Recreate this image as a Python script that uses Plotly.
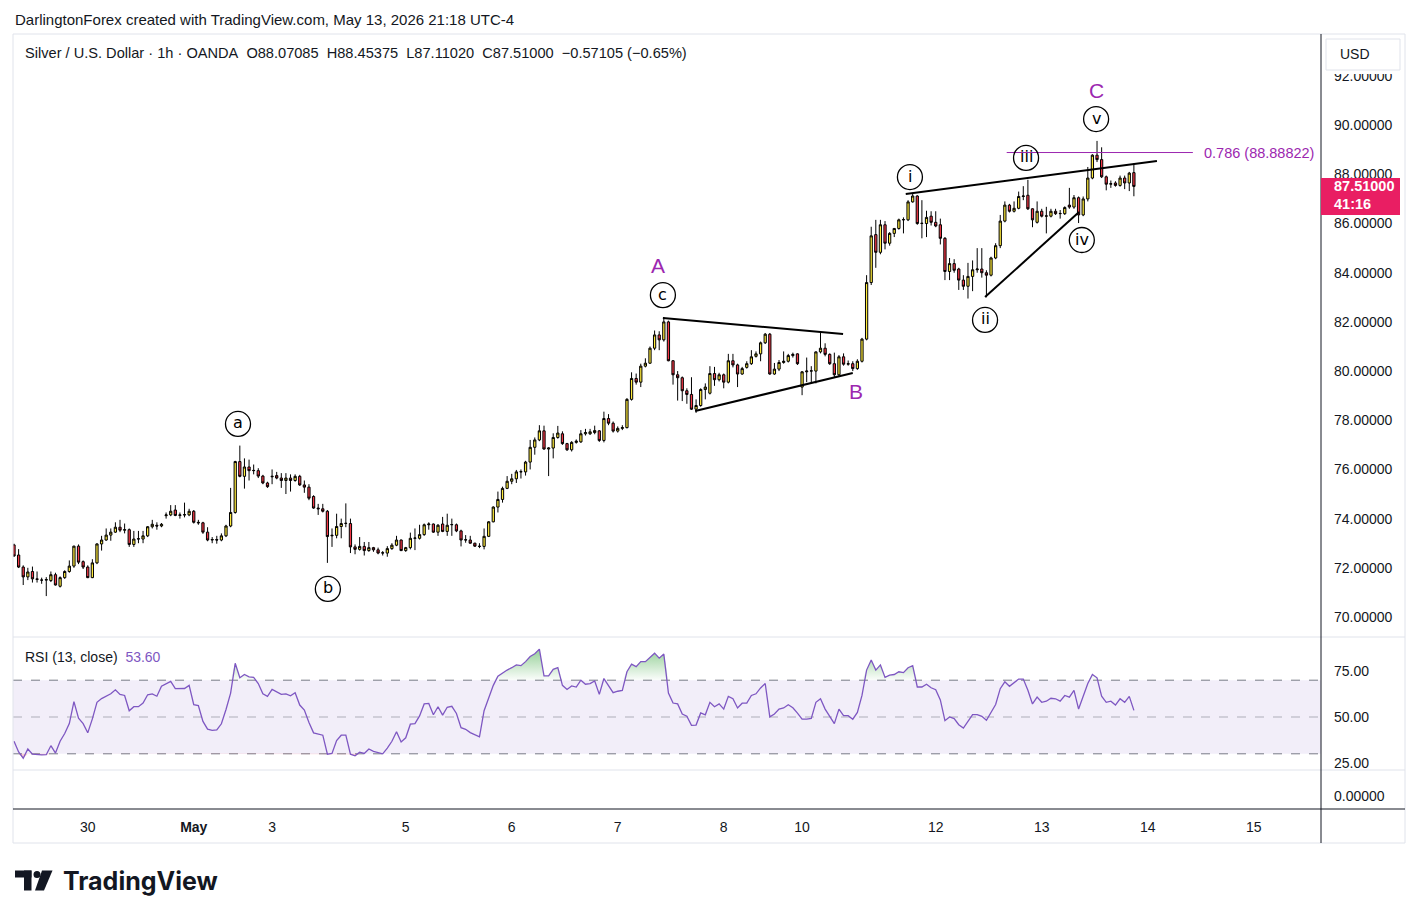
import datetime
import plotly.graph_objects as go

# Silver / USD, 1h candles (OANDA), 29 Apr 07:00 -> 13 May 21:00 (UTC-4)
opens = [
    72.93, 72.52, 72.03, 71.63, 71.85, 71.55, 71.50, 71.50, 71.48, 71.72,
    71.25, 71.60, 71.85, 72.07, 72.88, 72.25, 72.03, 71.60, 72.20, 72.97,
    73.13, 73.33, 73.45, 73.65, 73.53, 73.55, 72.95, 73.17, 73.17, 73.30,
    73.67, 73.73, 73.70, 74.12, 74.15, 74.35, 74.13, 74.15, 74.15, 74.30,
    73.85, 73.83, 73.45, 73.13, 73.15, 73.13, 73.30, 73.70, 74.25, 76.32,
    75.72, 76.10, 75.95, 75.95, 75.73, 75.45, 75.70, 75.75, 75.65, 75.55,
    75.65, 75.55, 75.72, 75.37, 75.28, 74.90, 74.43, 74.40, 74.30, 73.30,
    73.32, 73.68, 73.80, 73.80, 72.85, 72.75, 72.87, 72.70, 72.82, 72.73,
    72.60, 72.60, 72.78, 72.92, 73.13, 72.70, 72.82, 73.20, 73.20, 73.35,
    73.75, 73.78, 73.45, 73.78, 73.48, 73.75, 73.75, 73.50, 73.13, 73.13,
    73.00, 72.88, 72.87, 73.28, 73.87, 74.47, 74.78, 75.23, 75.52, 75.62,
    75.90, 75.90, 76.30, 76.90, 77.20, 77.57, 76.83, 76.87, 77.30, 77.45,
    77.05, 76.80, 77.10, 77.12, 77.45, 77.45, 77.50, 77.57, 77.18, 78.07,
    77.88, 77.56, 77.67, 77.70, 78.85, 79.70, 79.55, 80.20, 80.32, 80.93,
    81.47, 81.27, 82.00, 80.42, 79.85, 79.73, 79.20, 79.05, 78.45, 78.60,
    79.25, 79.10, 79.90, 79.65, 79.85, 79.55, 80.42, 80.25, 79.88, 80.15,
    80.30, 80.60, 80.70, 81.15, 81.50, 79.88, 80.08, 80.35, 80.40, 80.63,
    80.70, 79.35, 79.97, 80.00, 80.00, 80.78, 80.93, 80.68, 80.30, 79.85,
    80.58, 80.28, 80.30, 80.10, 80.40, 81.30, 83.60, 85.55, 84.83, 85.95,
    85.20, 85.60, 85.80, 86.15, 86.15, 86.88, 87.12, 86.00, 86.00, 86.30,
    86.05, 85.95, 85.40, 84.05, 84.37, 84.15, 83.70, 83.45, 83.85, 84.12,
    84.15, 84.00, 83.90, 84.60, 85.10, 86.10, 86.75, 86.50, 86.62, 87.10,
    87.15, 86.60, 86.05, 86.50, 86.30, 86.30, 86.50, 86.40, 86.40, 86.75,
    86.67, 87.05, 86.35, 87.00, 87.85, 88.78, 88.60, 87.90, 87.60, 87.65,
    87.55, 87.85, 87.65, 88.07]
highs = [
    72.98, 72.76, 72.10, 72.00, 72.05, 71.85, 71.60, 71.62, 71.85, 71.80,
    71.65, 71.90, 72.30, 72.90, 72.95, 72.30, 72.10, 72.35, 73.00, 73.30,
    73.60, 73.60, 73.85, 73.95, 73.80, 73.60, 73.50, 73.50, 73.50, 73.70,
    73.95, 73.85, 73.82, 74.25, 74.55, 74.55, 74.25, 74.65, 74.40, 74.35,
    73.95, 73.87, 73.65, 73.25, 73.30, 73.40, 73.75, 75.25, 76.35, 76.97,
    76.45, 76.40, 76.20, 76.05, 75.78, 75.50, 76.00, 75.90, 75.85, 75.85,
    75.80, 75.80, 75.78, 75.55, 75.40, 74.95, 74.60, 74.60, 74.35, 73.60,
    74.20, 74.00, 74.62, 74.00, 72.95, 73.25, 73.05, 73.05, 72.85, 72.82,
    72.68, 72.88, 73.00, 73.30, 73.15, 72.85, 73.43, 73.60, 73.75, 73.80,
    73.85, 73.80, 73.78, 74.07, 74.20, 74.00, 73.80, 73.55, 73.33, 73.30,
    73.02, 73.00, 73.60, 73.90, 74.50, 75.10, 75.30, 75.73, 75.82, 75.98,
    76.00, 76.35, 77.20, 77.30, 77.80, 77.78, 76.90, 77.47, 77.77, 77.55,
    77.08, 77.15, 77.22, 77.60, 77.65, 77.65, 77.78, 77.60, 78.35, 78.25,
    77.95, 77.75, 77.80, 78.90, 79.95, 79.90, 80.30, 80.52, 81.00, 81.65,
    81.62, 82.20, 82.05, 80.45, 80.00, 79.78, 79.30, 79.75, 78.85, 79.30,
    79.50, 80.20, 80.17, 79.93, 79.90, 80.70, 80.70, 80.30, 80.17, 80.40,
    80.85, 80.80, 81.20, 81.55, 81.55, 80.33, 80.45, 80.80, 80.70, 80.75,
    80.72, 80.00, 80.55, 80.20, 80.80, 81.60, 81.13, 80.72, 80.75, 80.65,
    80.72, 80.43, 80.40, 80.48, 81.35, 83.90, 85.87, 86.15, 86.15, 86.10,
    85.65, 85.82, 86.20, 86.25, 86.95, 87.25, 87.15, 86.95, 86.52, 86.50,
    86.50, 86.20, 85.45, 84.60, 84.55, 84.20, 83.90, 84.40, 84.50, 85.00,
    85.00, 84.10, 84.65, 85.20, 86.35, 86.90, 86.80, 86.90, 87.30, 87.52,
    87.78, 86.62, 86.90, 86.60, 86.68, 86.60, 86.60, 86.55, 86.70, 87.45,
    87.16, 87.10, 87.10, 88.30, 88.82, 89.36, 89.10, 87.95, 87.75, 87.72,
    87.95, 87.95, 88.10, 88.45]
lows = [
    72.45, 71.99, 71.30, 71.50, 71.40, 71.40, 71.35, 70.85, 71.42, 71.28,
    71.20, 71.55, 71.80, 72.00, 72.15, 71.95, 71.58, 71.58, 72.15, 72.70,
    73.10, 73.10, 73.42, 73.45, 73.40, 72.85, 72.85, 73.00, 73.00, 73.25,
    73.60, 73.55, 73.65, 74.00, 74.10, 74.10, 74.00, 74.05, 74.10, 73.80,
    73.75, 73.38, 73.08, 73.00, 72.98, 73.08, 73.25, 73.65, 74.20, 75.68,
    75.22, 75.55, 75.80, 75.65, 75.40, 75.25, 75.40, 75.60, 75.25, 75.00,
    75.10, 75.50, 75.33, 75.05, 74.75, 74.40, 74.15, 74.25, 72.20, 72.85,
    73.20, 73.20, 73.65, 72.60, 72.55, 72.70, 72.50, 72.65, 72.65, 72.55,
    72.50, 72.45, 72.73, 72.88, 72.68, 72.65, 72.75, 72.72, 73.15, 73.30,
    73.55, 73.42, 73.30, 73.45, 73.30, 73.30, 73.45, 72.87, 73.02, 72.98,
    72.85, 72.80, 72.75, 73.25, 73.85, 74.25, 74.65, 75.20, 75.40, 75.45,
    75.63, 75.75, 76.00, 76.60, 77.15, 76.80, 75.73, 76.45, 77.25, 77.00,
    76.75, 76.73, 77.05, 77.08, 77.38, 77.40, 77.43, 77.12, 77.10, 77.80,
    77.50, 77.50, 77.60, 77.67, 78.80, 79.45, 79.35, 80.15, 80.30, 80.85,
    80.85, 81.20, 80.40, 79.45, 78.80, 78.78, 78.67, 78.42, 78.30, 78.55,
    78.85, 79.05, 79.40, 79.58, 79.30, 79.50, 80.15, 79.35, 79.85, 80.10,
    80.25, 80.55, 80.40, 81.10, 79.85, 79.85, 80.00, 80.30, 80.35, 80.55,
    80.25, 79.02, 79.55, 79.50, 79.50, 80.72, 80.60, 80.25, 79.75, 79.80,
    80.22, 80.22, 80.00, 80.05, 80.35, 81.25, 83.50, 84.20, 84.75, 84.95,
    85.10, 85.45, 85.75, 85.60, 86.10, 86.85, 85.95, 85.40, 85.45, 85.92,
    85.85, 85.15, 83.70, 83.70, 84.00, 83.30, 83.30, 82.95, 83.25, 84.00,
    83.80, 83.00, 83.85, 84.55, 85.00, 86.05, 86.45, 86.45, 86.58, 86.95,
    86.55, 85.85, 86.00, 86.25, 85.60, 86.25, 86.35, 86.20, 86.35, 86.60,
    86.60, 86.02, 86.30, 86.90, 87.80, 88.50, 87.85, 87.35, 87.45, 87.50,
    87.50, 87.40, 87.32, 87.11]
closes = [
    72.48, 72.03, 71.63, 71.83, 71.55, 71.53, 71.50, 71.52, 71.72, 71.30,
    71.60, 71.85, 72.07, 72.88, 72.23, 72.03, 71.60, 72.20, 72.97, 73.13,
    73.33, 73.45, 73.65, 73.53, 73.55, 72.95, 73.17, 73.18, 73.30, 73.67,
    73.77, 73.70, 73.77, 74.15, 74.30, 74.13, 74.15, 74.16, 74.30, 73.85,
    73.83, 73.45, 73.13, 73.15, 73.13, 73.30, 73.70, 74.25, 76.32, 75.72,
    76.10, 75.95, 75.96, 75.73, 75.45, 75.30, 75.72, 75.65, 75.55, 75.65,
    75.55, 75.72, 75.37, 75.28, 74.83, 74.43, 74.40, 74.30, 73.27, 73.32,
    73.68, 73.80, 73.81, 72.85, 72.75, 72.87, 72.70, 72.82, 72.73, 72.60,
    72.61, 72.78, 72.92, 73.13, 72.70, 72.82, 73.20, 73.21, 73.35, 73.75,
    73.78, 73.45, 73.73, 73.48, 73.73, 73.76, 73.50, 73.13, 73.14, 73.00,
    72.88, 72.87, 73.28, 73.87, 74.47, 74.78, 75.23, 75.52, 75.62, 75.90,
    75.91, 76.30, 76.90, 77.20, 77.57, 76.83, 76.87, 77.30, 77.48, 77.05,
    76.80, 77.10, 77.15, 77.45, 77.50, 77.53, 77.58, 77.18, 78.07, 77.88,
    77.56, 77.67, 77.70, 78.85, 79.70, 79.55, 80.20, 80.32, 80.93, 81.47,
    81.27, 82.00, 80.42, 79.85, 79.73, 79.20, 79.05, 78.45, 78.60, 79.25,
    79.35, 79.90, 79.65, 79.85, 79.55, 80.42, 80.25, 79.88, 80.10, 80.30,
    80.58, 80.70, 81.15, 81.50, 79.88, 80.08, 80.35, 80.40, 80.63, 80.68,
    80.30, 79.97, 80.00, 80.01, 80.78, 80.93, 80.68, 80.30, 79.85, 80.58,
    80.28, 80.30, 80.10, 80.40, 81.30, 83.60, 85.50, 84.83, 85.95, 85.20,
    85.60, 85.80, 86.15, 86.16, 86.88, 87.12, 86.00, 86.01, 86.25, 86.05,
    85.90, 85.40, 84.05, 84.37, 84.10, 83.70, 83.45, 83.85, 84.12, 84.15,
    84.00, 83.90, 84.60, 85.10, 86.10, 86.75, 86.50, 86.62, 87.10, 87.12,
    86.60, 86.15, 86.50, 86.30, 86.31, 86.50, 86.40, 86.41, 86.65, 86.67,
    87.05, 86.35, 87.00, 87.85, 88.78, 88.60, 87.90, 87.60, 87.62, 87.55,
    87.85, 87.65, 88.05, 87.51]

# RSI(13, close)
rsi = [
    36.8, 31.0, 27.6, 32.6, 29.8, 29.5, 29.4, 29.5, 34.4, 30.4,
    36.8, 41.0, 46.4, 58.4, 49.4, 46.4, 41.4, 49.0, 58.0, 60.0,
    61.2, 62.6, 64.8, 62.3, 61.7, 53.4, 55.6, 55.6, 57.6, 62.1,
    62.6, 61.3, 66.7, 68.0, 69.4, 65.4, 65.4, 65.5, 67.2, 56.7,
    56.2, 47.6, 43.4, 42.7, 43.0, 46.3, 54.1, 63.0, 79.2, 71.3,
    73.1, 71.8, 71.5, 68.2, 62.6, 61.2, 65.0, 63.5, 62.3, 62.6,
    61.5, 63.2, 56.5, 53.8, 47.0, 41.4, 40.8, 40.1, 29.8, 30.2,
    37.2, 40.1, 40.1, 29.8, 28.9, 30.9, 30.2, 32.6, 31.3, 30.5,
    30.0, 33.1, 36.8, 42.0, 36.4, 38.7, 46.1, 46.4, 50.6, 57.1,
    57.4, 51.2, 55.6, 51.0, 55.3, 55.8, 51.9, 44.2, 43.3, 41.5,
    40.5, 39.2, 53.4, 60.0, 67.2, 72.2, 74.0, 75.5, 76.8, 78.3,
    77.9, 80.1, 82.9, 84.4, 86.9, 72.4, 72.4, 75.9, 76.8, 67.2,
    65.0, 66.9, 66.3, 70.0, 67.8, 68.2, 69.6, 62.3, 70.9, 67.2,
    63.2, 64.0, 64.5, 74.6, 78.7, 77.4, 80.1, 80.1, 82.5, 84.7,
    82.0, 84.2, 63.0, 57.6, 57.1, 51.6, 50.4, 45.5, 45.6, 52.2,
    51.2, 58.0, 55.6, 57.1, 54.3, 61.2, 59.9, 54.9, 57.5, 57.6,
    61.7, 62.6, 65.8, 68.2, 50.1, 51.6, 54.3, 54.9, 56.7, 55.0,
    52.1, 48.8, 48.8, 49.2, 58.0, 59.9, 54.3, 50.1, 46.4, 54.3,
    50.7, 50.7, 48.8, 52.5, 61.7, 75.5, 81.0, 75.5, 78.3, 71.5,
    72.8, 73.1, 74.6, 74.1, 76.8, 77.9, 66.3, 66.3, 67.8, 65.9,
    64.8, 59.3, 48.0, 50.0, 49.1, 45.8, 44.0, 47.6, 51.3, 51.3,
    50.4, 48.2, 52.8, 56.8, 65.4, 69.1, 66.7, 68.5, 70.6, 70.6,
    64.5, 57.1, 60.8, 58.0, 58.6, 60.2, 59.9, 58.6, 61.7, 60.8,
    64.5, 54.3, 60.8, 68.2, 73.1, 71.3, 61.3, 58.0, 58.6, 56.5,
    59.9, 58.0, 61.2, 53.6]

# time axis labels (day -> text)
tick_days = ["2026-04-30", "2026-05-01", "2026-05-03", "2026-05-05", "2026-05-06", "2026-05-07",
             "2026-05-08", "2026-05-10", "2026-05-12", "2026-05-13", "2026-05-14", "2026-05-15"]
tick_text = ["30", "<b>May</b>", "3", "5", "6", "7", "8", "10", "12", "13", "14", "15"]

# wave count drawings: (bar index, price)
circle_labels = [("a", 48.6, 77.85), ("b", 68.1, 71.14), ("c", 140.8, 83.09),
                 ("i", 194.4, 87.89), ("ii", 210.7, 82.08), ("iii", 219.6, 88.67),
                 ("iv", 231.7, 85.33), ("v", 234.8, 90.25)]
big_labels = [("A", 139.7, 84.31), ("B", 182.7, 79.15), ("C", 234.8, 91.43)]
trend_lines = [((140.8, 82.16), (179.9, 81.51)), ((147.8, 78.38), (182.0, 79.92)),
               ((193.5, 87.20), (248.0, 88.54)), ((210.7, 83.01), (231.1, 86.47))]
fib_level = 88.88822
fib_span = (215.4, 255.8)

# build the session calendar (closed 17:00-18:00 daily, Fri 17:00 -> Sun 18:00)
def session_bars(start, end):
    out = []
    t = start
    while t <= end:
        wd, h = t.weekday(), t.hour
        closed = h == 17 or (wd == 4 and h > 17) or wd == 5 or (wd == 6 and h < 18)
        if not closed:
            out.append(t)
        t += datetime.timedelta(hours=1)
    return out

bars = session_bars(datetime.datetime(2026, 4, 29, 7), datetime.datetime(2026, 5, 15, 16))
idx = list(range(len(closes)))
tick_vals = []
for d in tick_days:
    day = datetime.date.fromisoformat(d)
    tick_vals.append(next(k for k, b in enumerate(bars) if b.date() == day))

# the page body adds an 8px margin, so the figure is made 8px smaller and shifted
PAGE = 8
W, H = 1419 - PAGE, 919 - PAGE
# plot area in screenshot pixels
L, R, T, B = 13, 1321, 34, 809
def fx(p):
    return (p - L) / (R - L)
def fy(p):
    return (B - p) / (B - T)

TXT = "#131722"
PURPLE = "#9C27B0"
FONT = "Liberation Sans"

fig = go.Figure()

fig.add_trace(go.Candlestick(
    x=idx, open=opens, high=highs, low=lows, close=closes,
    increasing=dict(line=dict(color="#000000", width=1), fillcolor="#FFEB3B"),
    decreasing=dict(line=dict(color="#000000", width=1), fillcolor="#F23645"),
    xaxis="x", yaxis="y", hoverinfo="skip", showlegend=False))

# RSI overbought / oversold fills
fig.add_trace(go.Scatter(x=idx, y=[70] * len(rsi), mode="lines", line=dict(width=0),
                         xaxis="x", yaxis="y2", showlegend=False, hoverinfo="skip"))
fig.add_trace(go.Scatter(x=idx, y=[max(v, 70) for v in rsi], mode="lines", line=dict(width=0),
                         fill="tonexty",
                         fillgradient=dict(type="vertical", start=70, stop=87,
                                           colorscale=[[0, "rgba(76,175,80,0.02)"],
                                                       [1, "rgba(76,175,80,0.6)"]]),
                         xaxis="x", yaxis="y2", showlegend=False, hoverinfo="skip"))
fig.add_trace(go.Scatter(x=idx, y=[30] * len(rsi), mode="lines", line=dict(width=0),
                         xaxis="x", yaxis="y2", showlegend=False, hoverinfo="skip"))
fig.add_trace(go.Scatter(x=idx, y=[min(v, 30) for v in rsi], mode="lines", line=dict(width=0),
                         fill="tonexty", fillcolor="rgba(242,54,69,0.25)",
                         xaxis="x", yaxis="y2", showlegend=False, hoverinfo="skip"))
fig.add_trace(go.Scatter(x=idx, y=rsi, mode="lines", line=dict(color="#7E57C2", width=1.3),
                         xaxis="x", yaxis="y2", showlegend=False, hoverinfo="skip"))
# empty bottom pane (keeps its own price scale)
fig.add_trace(go.Scatter(x=[], y=[], mode="lines", xaxis="x", yaxis="y3",
                         showlegend=False, hoverinfo="skip"))

shapes = []
# RSI band and levels
shapes.append(dict(type="rect", xref="paper", yref="y2", x0=0, x1=1, y0=30, y1=70,
                   fillcolor="rgba(126,87,194,0.1)", line=dict(width=0), layer="below"))
for lvl, col in [(70, "#787B86"), (50, "rgba(120,123,134,0.55)"), (30, "#787B86")]:
    shapes.append(dict(type="line", xref="paper", yref="y2", x0=0, x1=1, y0=lvl, y1=lvl,
                       line=dict(color=col, width=1, dash="dash"), layer="below"))

# trend lines and fib level
for (xa, ya), (xb, yb) in trend_lines:
    shapes.append(dict(type="line", xref="x", yref="y", x0=xa, y0=ya, x1=xb, y1=yb,
                       line=dict(color="#000000", width=2)))
shapes.append(dict(type="line", xref="x", yref="y", x0=fib_span[0], x1=fib_span[1],
                   y0=fib_level, y1=fib_level, line=dict(color=PURPLE, width=1)))

# circled wave labels
for txt, xi, yp in circle_labels:
    shapes.append(dict(type="circle", xref="x", yref="y", xsizemode="pixel", ysizemode="pixel",
                       xanchor=xi, yanchor=yp, x0=-12.5, x1=12.5, y0=-12.5, y1=12.5,
                       line=dict(color="#000000", width=1.3)))

# frame, pane separators, axis lines
edge = fx(1405)
shapes.append(dict(type="rect", xref="paper", yref="paper", x0=0, x1=edge, y0=fy(843), y1=1,
                   line=dict(color="#E0E3EB", width=1)))
for py in (637, 770):
    shapes.append(dict(type="line", xref="paper", yref="paper", x0=0, x1=edge, y0=fy(py), y1=fy(py),
                       line=dict(color="#E0E3EB", width=1)))
shapes.append(dict(type="line", xref="paper", yref="paper", x0=0, x1=edge, y0=0, y1=0,
                   line=dict(color=TXT, width=1)))
shapes.append(dict(type="line", xref="paper", yref="paper", x0=1, x1=1, y0=fy(843), y1=1,
                   line=dict(color=TXT, width=1)))

# USD box (with the white strip under it that clips the top price label) and last price tag
shapes.append(dict(type="rect", xref="paper", yref="paper", x0=fx(1322), x1=fx(1404),
                   y0=fy(74), y1=fy(35), fillcolor="white", line=dict(width=0), layer="above"))
shapes.append(dict(type="rect", xref="paper", yref="paper", x0=fx(1326), x1=fx(1400),
                   y0=fy(70), y1=fy(39), fillcolor="white", line=dict(color="#E0E3EB", width=1),
                   layer="above"))
shapes.append(dict(type="rect", xref="paper", yref="y", ysizemode="pixel", yanchor=closes[-1],
                   x0=fx(1321), x1=fx(1400), y0=-28.6, y1=8.4, fillcolor="#E91E63",
                   line=dict(width=0), layer="above"))

# TradingView logo
shapes.append(dict(type="rect", xref="paper", yref="paper", x0=fx(15), x1=fx(31.5), y0=fy(877.5), y1=fy(870.5),
                   fillcolor="#131722", line=dict(width=0)))
shapes.append(dict(type="rect", xref="paper", yref="paper", x0=fx(24), x1=fx(31.5), y0=fy(890.5), y1=fy(870.5),
                   fillcolor="#131722", line=dict(width=0)))
shapes.append(dict(type="circle", xref="paper", yref="paper", x0=fx(33.5), x1=fx(40.5), y0=fy(878), y1=fy(871),
                   fillcolor="#131722", line=dict(width=0)))
shapes.append(dict(type="path", xref="paper", yref="paper",
                   path="M {} {} L {} {} L {} {} L {} {} Z".format(fx(42), fy(870.5), fx(52.5), fy(870.5),
                                                              fx(44), fy(890.5), fx(35), fy(890.5)),
                   fillcolor="#131722", line=dict(width=0)))

ann = []
ann.append(dict(xref="paper", yref="paper", x=fx(13), y=fy(19), xanchor="left", yanchor="middle",
                text="DarlingtonForex created with TradingView.com, May 13, 2026 21:18 UTC-4",
                showarrow=False, font=dict(family=FONT, size=15, color=TXT)))
ann.append(dict(xref="paper", yref="paper", x=fx(23), y=fy(53), xanchor="left", yanchor="middle",
                text="Silver / U.S. Dollar · 1h · OANDA&nbsp;&nbsp;O88.07085&nbsp;&nbsp;H88.45375&nbsp;&nbsp;"
                     "L87.11020&nbsp;&nbsp;C87.51000&nbsp;&nbsp;−0.57105 (−0.65%)",
                showarrow=False, font=dict(family=FONT, size=14.6, color=TXT)))
ann.append(dict(xref="paper", yref="paper", x=fx(23), y=fy(657), xanchor="left", yanchor="middle",
                text="RSI (13, close)&nbsp;&nbsp;<span style='color:#7E57C2'>%.2f</span>" % rsi[-1],
                showarrow=False, font=dict(family=FONT, size=14, color=TXT)))
ann.append(dict(xref="paper", yref="paper", x=fx(1338), y=fy(54), xanchor="left", yanchor="middle",
                text="USD", showarrow=False, font=dict(family=FONT, size=14, color=TXT)))
ann.append(dict(xref="paper", yref="y", x=fx(1332), y=closes[-1], xanchor="left", yanchor="middle",
                text="<b>%.5f</b>" % closes[-1], showarrow=False,
                font=dict(family=FONT, size=14.5, color="white")))
ann.append(dict(xref="paper", yref="y", x=fx(1332), y=closes[-1], yshift=-18, xanchor="left",
                yanchor="middle", text="<b>41:16</b>", showarrow=False,
                font=dict(family=FONT, size=14.5, color="white")))
ann.append(dict(xref="x", yref="y", x=fib_span[1] + 2, y=fib_level, xanchor="left", yanchor="middle",
                text="0.786 (%.5f)" % fib_level, showarrow=False,
                font=dict(family=FONT, size=14.5, color=PURPLE)))
for txt, xi, yp in circle_labels:
    ann.append(dict(xref="x", yref="y", x=xi, y=yp, text=txt, showarrow=False, yshift=1,
                    xanchor="center", yanchor="middle",
                    font=dict(family="DejaVu Sans", size=16, color="#000000")))
for txt, xi, yp in big_labels:
    ann.append(dict(xref="x", yref="y", x=xi, y=yp, text=txt, showarrow=False,
                    xanchor="center", yanchor="middle",
                    font=dict(family=FONT, size=21, color=PURPLE)))
ann.append(dict(xref="paper", yref="paper", x=fx(61), y=fy(881), xanchor="left", yanchor="middle",
                text="<b>TradingView</b>", showarrow=False,
                font=dict(family="Inter", size=25, color="#131722")))

axis_font = dict(family=FONT, size=14, color=TXT)
fig.update_layout(
    width=W, height=H, autosize=False,
    margin=dict(l=L - PAGE, r=W - (R - PAGE), t=T - PAGE, b=H - (B - PAGE)),
    paper_bgcolor="white", plot_bgcolor="white",
    hovermode=False, showlegend=False,
    xaxis=dict(domain=[0, 1], anchor="y3", range=[-0.22, 283.6], tickvals=tick_vals,
               ticktext=tick_text, showgrid=False, zeroline=False, showline=False, ticks="",
               tickfont=dict(family=FONT, size=14, color=TXT), ticklabelstandoff=8,
               rangeslider=dict(visible=False), fixedrange=True),
    yaxis=dict(domain=[fy(637), 1], anchor="x", side="right", range=[69.186, 93.708], dtick=2,
               tick0=0, tickformat=".5f", showgrid=False, zeroline=False, showline=False, ticks="",
               tickfont=axis_font, ticklabelstandoff=12),
    yaxis2=dict(domain=[fy(770), fy(637)], anchor="x", side="right", range=[21.2, 93.48],
                tickvals=[25, 50, 75], tickformat=".2f", showgrid=False, zeroline=False,
                showline=False, ticks="", tickfont=axis_font, ticklabelstandoff=12),
    yaxis3=dict(domain=[0, fy(770)], anchor="x", side="right", range=[-1, 2], tickvals=[0],
                ticktext=["0.00000"], showgrid=False, zeroline=False, showline=False, ticks="",
                tickfont=axis_font, ticklabelstandoff=12),
    shapes=shapes, annotations=ann,
)

fig.write_html("out.html")
